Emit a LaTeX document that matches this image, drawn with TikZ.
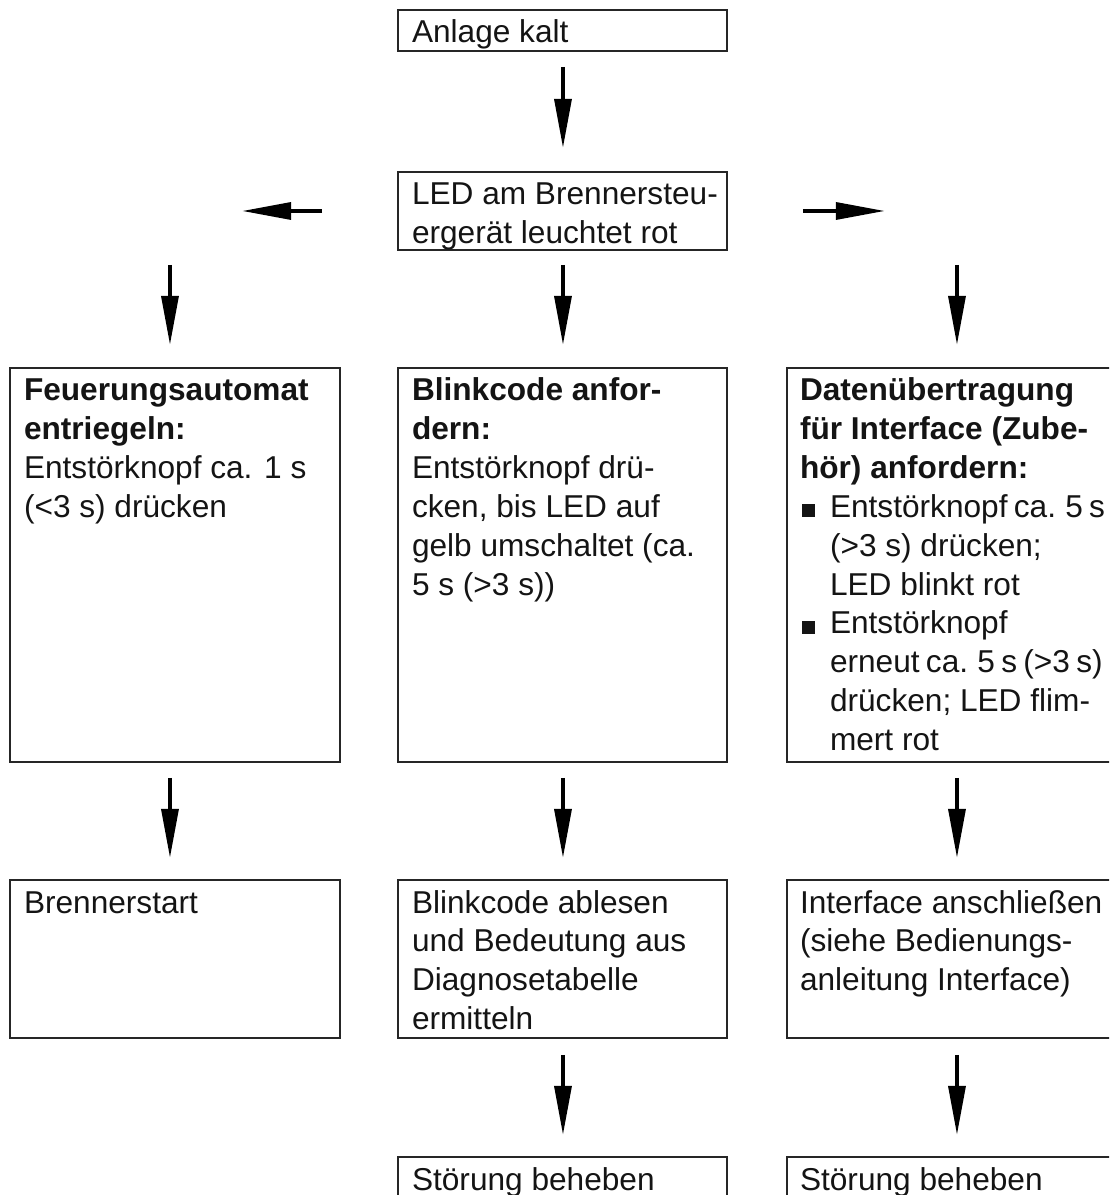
\documentclass[tikz,border=0pt]{standalone}
\usepackage{fontspec}
\setmainfont{Liberation Sans}
\usetikzlibrary{arrows.meta,calc}
\newcommand\tightline[1]{{\spaceskip=0.2em\relax #1}}
\newcommand\sq{\makebox[0.6cm][l]{\hspace{0.04cm}\rule{0.26cm}{0.26cm}}}
\newcommand\ind{\hspace*{0.6cm}}
\newcommand\fs{\rule{0pt}{0.62cm}}
\begin{document}
\begin{tikzpicture}[x=0.02cm,y=-0.02cm,
  box/.style={draw=black!85, line width=1.1pt, anchor=north west, inner sep=0pt, outer sep=0pt},
  txt/.style={anchor=north west, inner sep=0pt, outer sep=0pt, align=left,
    font=\fontsize{18pt}{22.1pt}\selectfont, text=black!92},
  arr/.style={line width=2.2pt, -{Triangle[length=28pt,width=9.6pt]}},
]
\useasboundingbox (0,0) rectangle (1109,1195);
\clip (0,0) rectangle (1109,1195);

% boxes
\node[box, minimum width=6.58cm, minimum height=0.82cm] (n1) at (398,10) {};
\node[box, minimum width=6.58cm, minimum height=1.56cm] (n2) at (398,172) {};
\node[box, minimum width=6.6cm, minimum height=7.88cm] (L1) at (10,368) {};
\node[box, minimum width=6.58cm, minimum height=7.88cm] (M1) at (398,368) {};
\node[box, minimum width=6.8cm, minimum height=7.88cm] (R1) at (787,368) {};
\node[box, minimum width=6.6cm, minimum height=3.16cm] (L2) at (10,880) {};
\node[box, minimum width=6.58cm, minimum height=3.16cm] (M2) at (398,880) {};
\node[box, minimum width=6.8cm, minimum height=3.16cm] (R2) at (787,880) {};
\node[box, minimum width=6.58cm, minimum height=2cm] (M3) at (398,1157) {};
\node[box, minimum width=6.8cm, minimum height=2cm] (R3) at (787,1157) {};

% texts
\node[txt] (t1) at (412,12) {\fs Anlage kalt};
\node[txt] (t2) at (412,174) {\fs LED am Brennersteu-\\ergerät leuchtet rot};
\node[txt] (tL1) at (24,370) {\fs\textbf{Feuerungsautomat}\\\textbf{entriegeln:}\\Entstörknopf ca. 1 s\\(<3 s) drücken};
\node[txt] (tM1) at (412,370) {\fs\textbf{Blinkcode anfor-}\\\textbf{dern:}\\Entstörknopf drü-\\cken, bis LED auf\\gelb umschaltet (ca.\\5 s (>3 s))};
\node[txt] (tR1) at (800,370) {\fs\textbf{Datenübertragung}\\\textbf{für Interface (Zube-}\\\textbf{hör) anfordern:}\\
  \sq\tightline{Entstörknopf ca. 5 s}\\\ind(>3 s) drücken;\\\ind LED blinkt rot\\
  \sq Entstörknopf\\\ind\tightline{erneut ca. 5 s (>3 s)}\\\ind drücken; LED flim-\\\ind mert rot};
\node[txt] (tL2) at (24,882) {\fs Brennerstart};
\node[txt] (tM2) at (412,882) {\fs Blinkcode ablesen\\und Bedeutung aus\\Diagnosetabelle\\ermitteln};
\node[txt] (tR2) at (800,882) {\fs Interface anschließen\\(siehe Bedienungs-\\anleitung Interface)};
\node[txt] (tM3) at (412,1159) {\fs Störung beheben};
\node[txt] (tR3) at (800,1159) {\fs Störung beheben};

% connectors
\coordinate (hl1) at ($(n2.west)+(-76,0)$);
\coordinate (hl2) at ($(n2.west)+(-156,0)$);
\coordinate (hr1) at ($(n2.east)+(76,0)$);
\coordinate (hr2) at ($(n2.east)+(158,0)$);
\coordinate (vl) at ($(L1.north)+(-5,-103)$);
\coordinate (vm) at ($(M1.north)+(0.5,-103)$);
\coordinate (vr) at ($(R1.north)+(0,-103)$);

\draw[arr] ($(n1.south)+(0.5,16)$) -- ($(n2.north)+(0.5,-24)$);
\draw[arr] (hl1) -- (hl2);
\draw[arr] (hr1) -- (hr2);
\draw[arr] (vl) -- ($(L1.north)+(-5,-23)$);
\draw[arr] (vm) -- ($(M1.north)+(0.5,-23)$);
\draw[arr] (vr) -- ($(R1.north)+(0,-23)$);
\draw[arr] ($(L1.south)+(-5,16)$) -- ($(L2.north)+(-5,-22)$);
\draw[arr] ($(M1.south)+(0.5,16)$) -- ($(M2.north)+(0.5,-22)$);
\draw[arr] ($(R1.south)+(0,16)$) -- ($(R2.north)+(0,-22)$);
\draw[arr] ($(M2.south)+(0.5,17)$) -- ($(M3.north)+(0.5,-22)$);
\draw[arr] ($(R2.south)+(0,17)$) -- ($(R3.north)+(0,-22)$);
\end{tikzpicture}
\end{document}
